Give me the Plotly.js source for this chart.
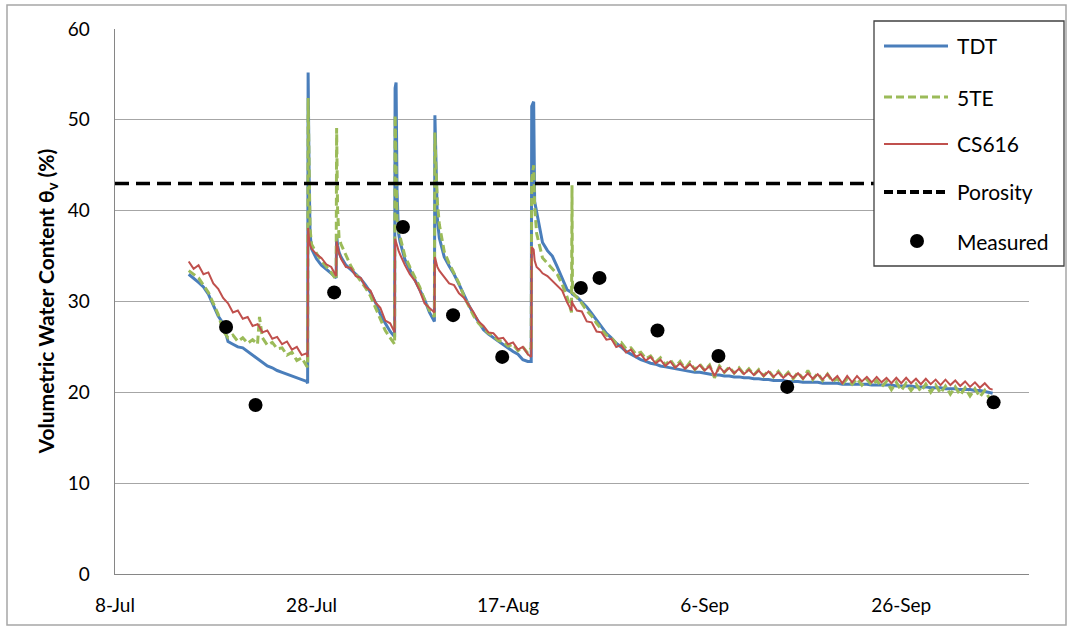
<!DOCTYPE html>
<html>
<head>
<meta charset="utf-8">
<script src="https://cdn.plot.ly/plotly-3.0.1.min.js"></script>
<style>html,body{margin:0;padding:0;background:#fff;}#chart{width:1068px;height:628px;}</style>
</head>
<body>
<div id="chart"></div>
<script>
// ---------- DATA ----------
// time in days after 8-Jul
const startDate = '2013-07-08';
const axisDays = [0, 93];
const tickLabels = ['8-Jul', '28-Jul', '17-Aug', '6-Sep', '26-Sep'];
const seriesNames = ['TDT', '5TE', 'CS616', 'Porosity', 'Measured'];

const days = [
  // before 1st wetting event
  7.5, 8, 8.5, 9, 9.5, 10, 10.5, 11, 11.5, 12, 12.5, 13, 13.5, 14, 14.5, 14.7, 15, 15.5, 16, 16.5, 17, 17.5, 18, 18.5, 19, 19.5, 19.6,
  // event 1
  19.65, 19.75, 19.85, 20, 20.5, 21, 21.5, 22, 22.5,
  // event 2
  22.55, 22.65, 22.8, 23, 23.5, 24, 24.5, 25, 25.5, 26, 26.5, 27, 27.5, 28, 28.45,
  // event 3
  28.5, 28.6, 28.7, 28.85, 29, 29.5, 30, 30.5, 31, 31.5, 32, 32.5,
  // event 4
  32.55, 32.65, 32.8, 33, 33.5, 34, 34.5, 35, 35.5, 36, 36.5, 37, 37.5, 38, 38.5, 39, 39.5, 40, 40.5, 41, 41.5, 42, 42.35,
  // event 5
  42.4, 42.6, 42.7, 42.9, 43.2, 43.5, 44, 44.5, 45, 45.5, 46, 46.45,
  // drying
  46.5, 46.55, 47, 47.5, 48, 48.5, 49, 49.5, 50, 50.5,
  51, 51.5, 52, 52.5, 53, 53.5, 54, 54.5, 55, 55.5,
  56, 56.5, 57, 57.5, 58, 58.5, 59, 59.5, 60, 60.5,
  61, 61.5, 62, 62.5, 63, 63.5, 64, 64.5, 65, 65.5,
  66, 66.5, 67, 67.5, 68, 68.5, 69, 69.5, 70, 70.5,
  71, 71.5, 72, 72.5, 73, 73.5, 74, 74.5, 75, 75.5,
  76, 76.5, 77, 77.5, 78, 78.5, 79, 79.5, 80, 80.5,
  81, 81.5, 82, 82.5, 83, 83.5, 84, 84.5, 85, 85.5,
  86, 86.5, 87, 87.5, 88, 88.5, 89, 89.3
];

const tdt = [
  33.0, 32.6, 32.1, 31.6, 30.8, 29.6, 28.4, 27.6, 25.6, 25.3, 25.0, 24.9, 24.5, 24.0, 23.6, 23.5, 23.3, 22.9, 22.7, 22.4, 22.2, 22.0, 21.8, 21.6, 21.4, 21.2, 21.0,
  55.2, 44.0, 37.5, 35.8, 34.7, 34.0, 33.6, 33.1, 32.6,
  37.3, 36.2, 35.4, 34.9, 34.0, 33.5, 33.0, 32.5, 31.8, 31.0, 29.9, 28.6, 27.6, 26.7, 26.1,
  53.5, 54.1, 42.0, 37.5, 36.6, 34.6, 33.5, 32.4, 31.3, 30.2, 28.8, 27.8,
  50.5, 44.0, 39.0, 37.0, 34.9, 33.9, 33.0, 31.9, 30.7, 29.6, 28.6, 27.7, 26.9, 26.4, 26.0, 25.7, 25.2, 24.9, 24.5, 24.2, 23.6, 23.4, 23.4,
  51.5, 52.0, 41.0, 39.8, 37.9, 36.5, 35.6, 35.0, 33.8, 32.5, 31.3, 31.0,
  30.9, 30.8, 30.5, 30.0, 29.4, 28.7, 28.0, 27.2, 26.5, 26.0,
  25.4, 25.0, 24.5, 24.2, 23.9, 23.6, 23.4, 23.2, 23.1, 22.9,
  22.8, 22.7, 22.6, 22.5, 22.4, 22.3, 22.2, 22.2, 22.1, 22.0,
  21.9, 21.9, 21.8, 21.8, 21.7, 21.7, 21.6, 21.6, 21.5, 21.5,
  21.4, 21.4, 21.3, 21.3, 21.3, 21.2, 21.2, 21.2, 21.1, 21.1,
  21.1, 21.1, 21.0, 21.0, 21.0, 21.0, 20.9, 20.9, 20.9, 20.9,
  20.9, 20.9, 20.8, 20.8, 20.8, 20.8, 20.8, 20.7, 20.7, 20.7,
  20.7, 20.6, 20.6, 20.6, 20.5, 20.5, 20.5, 20.4, 20.4, 20.4,
  20.3, 20.3, 20.3, 20.2, 20.2, 20.1, 20.0, 19.9
];

const fiveTE = [
  33.4, 33.0, 32.6, 31.8, 31.0, 29.8, 28.6, 26.8, 26.0, 26.3, 25.6, 26.0, 25.4, 25.8, 25.3, 28.3, 26.0, 25.2, 25.5, 24.8, 24.9, 24.1, 24.4, 23.5, 23.8, 22.9, 22.8,
  52.4, 45.0, 38.0, 36.3, 35.3, 34.5, 33.9, 33.2, 32.4,
  49.1, 40.0, 37.0, 36.3, 35.0, 33.9, 33.0, 32.3, 31.5, 30.6, 29.3, 27.9, 26.8, 26.0, 25.3,
  50.5, 44.0, 39.0, 37.8, 37.2, 35.0, 33.8, 32.7, 31.6, 30.2, 29.0, 28.3,
  48.6, 45.0, 41.0, 38.5, 35.5, 34.2, 33.1, 32.0, 30.6, 29.4, 28.4, 27.6, 27.0, 26.5, 26.2, 25.7, 25.6, 25.1, 25.3, 24.6, 25.0, 24.3, 24.9,
  43.5, 45.0, 40.5, 37.5, 36.0, 34.8, 34.2, 33.6, 33.0, 31.9, 30.5, 28.8,
  42.8, 31.0, 30.4, 29.8, 29.0, 28.4, 27.6, 27.0, 26.3, 26.0,
  25.4, 25.5, 24.8, 24.9, 24.2, 24.4, 23.7, 24.0, 23.3, 23.8,
  23.0, 23.6, 22.8, 23.4, 22.6, 23.3, 22.5, 23.1, 22.4, 23.0,
  21.6, 22.9, 22.2, 22.8, 22.1, 22.7, 22.0, 22.6, 21.9, 22.5,
  21.8, 22.4, 21.7, 22.3, 21.6, 22.2, 21.5, 22.2, 21.5, 22.4,
  21.4, 22.1, 21.3, 22.0, 21.2, 21.5, 20.9, 21.5, 20.9, 21.5,
  20.8, 21.4, 20.8, 21.3, 20.6, 21.2, 20.3, 21.1, 20.2, 21.0,
  20.2, 20.9, 20.1, 20.9, 20.0, 20.8, 19.9, 20.7, 19.8, 20.6,
  19.7, 20.5, 19.6, 20.4, 19.5, 20.2, 19.3, 19.5
];

const cs616 = [
  34.4, 33.6, 34.0, 33.0, 33.2, 32.0, 31.4, 30.4, 29.8, 28.8, 29.0, 28.1, 28.3, 27.3, 27.5, 27.2, 26.6, 26.8, 25.9, 26.1, 25.3, 25.6, 24.7, 25.0, 24.1, 24.3, 23.9,
  38.1, 36.8, 36.2, 35.8, 35.2, 34.8, 34.1, 33.8, 32.8,
  36.6, 36.0, 35.3, 34.7, 33.8, 33.7, 32.8, 32.6, 31.6, 31.2, 29.9, 29.3, 27.9, 27.6, 26.6,
  36.9, 36.5, 36.0, 35.6, 35.2, 34.0, 33.0, 32.3, 31.2, 29.8, 29.3, 28.8,
  34.9, 34.3, 33.8, 33.4, 32.7, 32.0, 31.8, 30.9, 30.4, 29.6, 28.8, 27.8, 27.3, 26.6, 26.5, 25.9, 26.0, 25.3, 25.5, 24.7, 25.0, 24.2, 23.9,
  36.0, 35.7, 34.5, 33.8, 33.5, 33.1, 32.8, 32.3, 31.7, 31.2, 29.9, 29.0,
  30.1, 29.8, 29.0, 28.9, 27.8, 27.7, 26.7, 26.6, 25.8, 25.9,
  25.0, 25.2, 24.4, 24.7, 23.9, 24.2, 23.5, 23.9, 23.2, 23.6,
  22.9, 23.4, 22.7, 23.2, 22.6, 23.1, 22.5, 23.0, 22.4, 22.9,
  21.8, 22.8, 22.2, 22.7, 22.1, 22.6, 22.0, 22.5, 21.9, 22.4,
  21.8, 22.3, 21.7, 22.2, 21.6, 22.1, 21.6, 22.1, 21.5, 22.1,
  21.5, 22.0, 21.4, 22.0, 21.3, 21.8, 21.0, 21.8, 21.1, 21.8,
  21.2, 21.7, 21.1, 21.7, 21.1, 21.6, 21.0, 21.6, 21.0, 21.6,
  21.0, 21.5, 20.9, 21.5, 20.9, 21.4, 20.8, 21.4, 20.8, 21.3,
  20.7, 21.2, 20.6, 21.1, 20.5, 21.0, 20.4, 20.3
];

const porosity = 43;

const measuredDays = [11.3, 14.3, 22.3, 29.3, 34.4, 39.4, 47.4, 49.3, 55.2, 61.4, 68.4, 89.4];
const measuredVals = [27.2, 18.6, 31.0, 38.2, 28.5, 23.9, 31.5, 32.6, 26.8, 24.0, 20.6, 18.9];

// ---------- BUILD ----------
[tdt, fiveTE, cs616].forEach(function (a, i) {
  if (a.length !== days.length) throw new Error('length mismatch ' + i + ': ' + a.length + ' vs ' + days.length);
});

const base = Date.parse(startDate + 'T00:00:00Z');
function toDate(d) {
  return new Date(base + d * 86400000).toISOString().slice(0, 19).replace('T', ' ');
}
const x = days.map(toDate);

const traces = [
  {x: x, y: tdt, name: seriesNames[0], type: 'scatter', mode: 'lines',
   line: {color: '#4a7ebb', width: 3}},
  {x: x, y: fiveTE, name: seriesNames[1], type: 'scatter', mode: 'lines',
   line: {color: '#9bbb59', width: 3, dash: '8px,4px'}},
  {x: x, y: cs616, name: seriesNames[2], type: 'scatter', mode: 'lines',
   line: {color: '#c0504d', width: 2}},
  {x: axisDays.map(toDate), y: axisDays.map(function () { return porosity; }), name: seriesNames[3],
   type: 'scatter', mode: 'lines', line: {color: '#000', width: 3.5, dash: '14px,7px'}},
  {x: measuredDays.map(toDate), y: measuredVals, name: seriesNames[4], type: 'scatter', mode: 'markers',
   marker: {color: '#000', size: 14}}
];

// layout helpers: pixel -> paper
const L = 115, R = 1029, T = 29, B = 574;
function PX(px) { return (px - L) / (R - L); }
function PY(py) { return (B - py) / (B - T); }

const legendRows = [46, 97, 144, 192, 241];
const legendLine = [884, 948];
const shapes = [
  // outer frame
  {type: 'rect', xref: 'paper', yref: 'paper', x0: PX(7), x1: PX(1066), y0: PY(625), y1: PY(5),
   line: {color: '#a6a6a6', width: 1.5}, fillcolor: 'rgba(0,0,0,0)', layer: 'below'},
  // legend box
  {type: 'rect', xref: 'paper', yref: 'paper', x0: PX(874), x1: PX(1064), y0: PY(266), y1: PY(21),
   line: {color: '#404040', width: 1.3}, fillcolor: '#ffffff', layer: 'above'}
];
const legStyles = [
  {color: '#4a7ebb', width: 3},
  {color: '#9bbb59', width: 3, dash: '8px,4px'},
  {color: '#c0504d', width: 2},
  {color: '#000', width: 4, dash: '9px,4px'}
];
legStyles.forEach(function (st, i) {
  shapes.push({type: 'line', xref: 'paper', yref: 'paper', x0: PX(legendLine[0]), x1: PX(legendLine[1]),
    y0: PY(legendRows[i]), y1: PY(legendRows[i]), line: st, layer: 'above'});
});
shapes.push({type: 'circle', xref: 'paper', yref: 'paper', x0: PX(910), x1: PX(924),
  y0: PY(legendRows[4] + 7), y1: PY(legendRows[4] - 7), fillcolor: '#000', line: {color: '#000', width: 0}, layer: 'above'});

const annotations = seriesNames.map(function (n, i) {
  return {xref: 'paper', yref: 'paper', x: PX(955), y: PY(legendRows[i]), xanchor: 'left', yanchor: 'middle',
    text: n, showarrow: false, font: {size: 21, color: '#000', family: 'Lato, sans-serif'}};
});
// y-axis title
annotations.push({xref: 'paper', yref: 'paper', x: PX(46), y: 0.5, xanchor: 'center', yanchor: 'middle',
  textangle: -90, showarrow: false,
  text: '<b>Volumetric Water Content θ<sub>v</sub> (%)</b>',
  font: {size: 21, color: '#000', family: 'Lato, sans-serif'}});

const layout = {
  width: 1068, height: 628,
  margin: {l: L, r: 1068 - R, t: T, b: 628 - B, pad: 0},
  paper_bgcolor: '#ffffff', plot_bgcolor: '#ffffff',
  font: {family: 'Lato, sans-serif', color: '#000', size: 19},
  showlegend: false,
  hovermode: false,
  xaxis: {
    type: 'date', range: axisDays.map(toDate), tickmode: 'array',
    tickvals: [0, 20, 40, 60, 80].map(toDate), ticktext: tickLabels,
    showgrid: false, zeroline: false, showline: true, linecolor: '#868686', linewidth: 1.3,
    ticks: '', tickfont: {size: 19, color: '#000'}, ticklabelstandoff: 14
  },
  yaxis: {
    range: [0, 60], dtick: 10, tick0: 0,
    showgrid: true, gridcolor: '#a6a6a6', gridwidth: 1.3,
    zeroline: false, showline: true, linecolor: '#868686', linewidth: 1.3,
    ticks: '', tickfont: {size: 19, color: '#000'}, ticklabelstandoff: 20
  },
  shapes: shapes,
  annotations: annotations
};

Plotly.newPlot('chart', traces, layout, {staticPlot: true, displayModeBar: false});
</script>
</body>
</html>
